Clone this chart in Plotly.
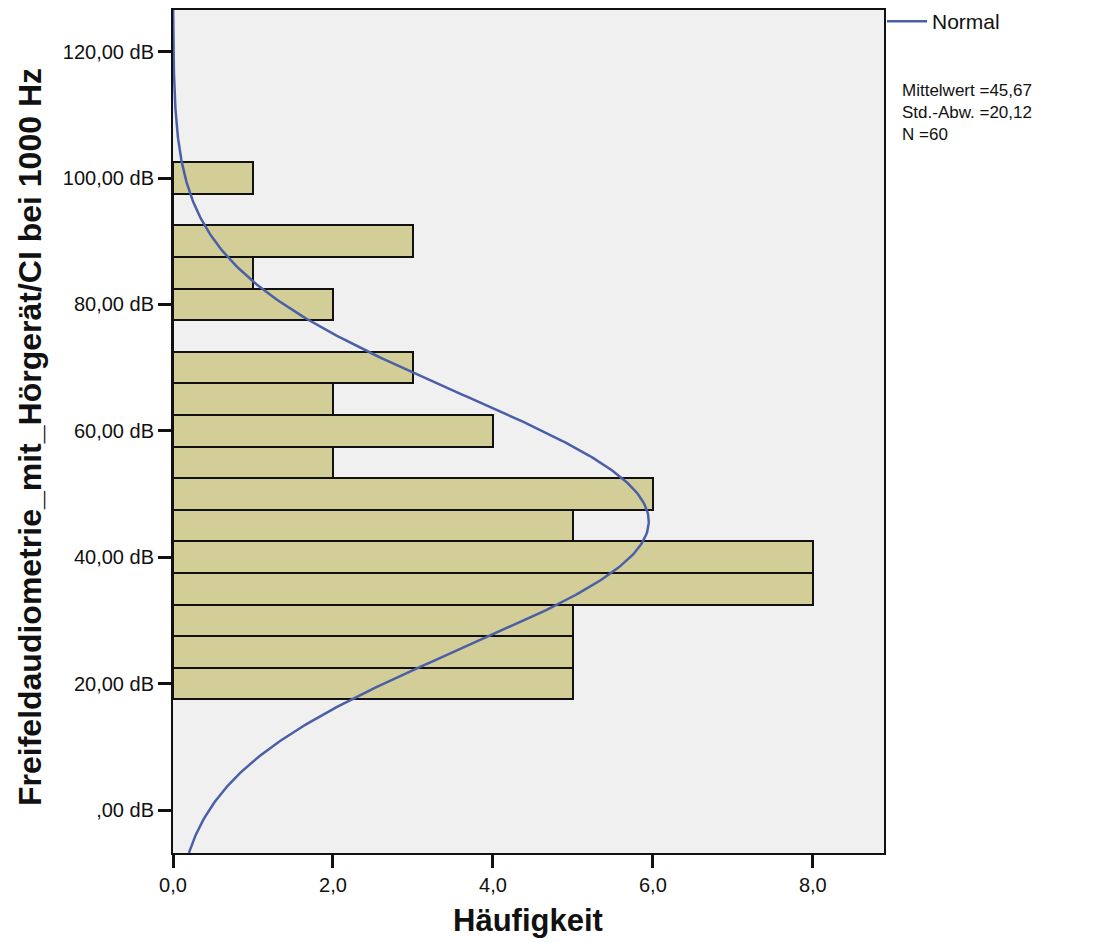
import numpy as np
import plotly.graph_objects as go

# Data
bin_centers = [20, 25, 30, 35, 40, 45, 50, 55, 60, 65, 70, 75, 80, 85, 90, 95, 100]
counts = [5, 5, 5, 8, 8, 5, 6, 2, 4, 2, 3, 0, 2, 1, 3, 0, 1]
bin_width = 5
mean_val = 45.67
sd_val = 20.12
n_val = 60

y_tick_vals = [0, 20, 40, 60, 80, 100, 120]
y_tick_text = [",00 dB", "20,00 dB", "40,00 dB", "60,00 dB", "80,00 dB", "100,00 dB", "120,00 dB"]
x_tick_vals = [0, 2, 4, 6, 8]
x_tick_text = ["0,0", "2,0", "4,0", "6,0", "8,0"]
stats_lines = ["Mittelwert =45,67", "Std.-Abw. =20,12", "N =60"]

y_range = [-6.8, 126.6]
x_range = [0, 8.89]

bar_fill = "#D3CE98"
bg = "#F0F0F0"
line_col = "#4A5FA8"
font_family = "Liberation Sans, Arial, sans-serif"

# plot area in screen px (page body has 8px margin)
PL, PR, PT, PB = 173, 884, 10, 853
PW, PH = PR - PL, PB - PT

fig = go.Figure()
fig.add_trace(go.Bar(
    y=bin_centers, x=counts, orientation="h", width=bin_width,
    marker=dict(color=bar_fill, line=dict(color="#111111", width=2)),
    showlegend=False, hoverinfo="skip",
))

# Normal curve from reported statistics
yy = np.linspace(y_range[0], y_range[1], 400)
xx = n_val * bin_width * np.exp(-0.5 * ((yy - mean_val) / sd_val) ** 2) / (sd_val * np.sqrt(2 * np.pi))
fig.add_trace(go.Scatter(
    x=xx, y=yy, mode="lines", line=dict(color=line_col, width=2.5),
    name="Normal", showlegend=True,
))

def px_x(x):
    return (x - PL) / PW

def px_y(y):
    return (PB - y) / PH

annotations = [
    dict(text="Freifeldaudiometrie_mit_Hörgerät/CI bei 1000 Hz", textangle=-90,
         xref="paper", yref="paper", x=px_x(30), y=px_y(437),
         xanchor="center", yanchor="middle", showarrow=False,
         font=dict(size=32, family=font_family, color="#111111", weight="bold")),
    dict(text="Häufigkeit", xref="paper", yref="paper", x=px_x(528), y=px_y(920),
         xanchor="center", yanchor="middle", showarrow=False,
         font=dict(size=31, family=font_family, color="#111111", weight="bold")),
    dict(text="<br>".join(stats_lines), xref="paper", yref="paper",
         x=px_x(900), y=px_y(79), xanchor="left", yanchor="top", align="left",
         showarrow=False, font=dict(size=17, family=font_family, color="#111111")),
]

fig.update_layout(
    width=1089, height=934,
    margin=dict(l=PL - 8, r=1089 + 8 - PR, t=PT - 8, b=934 + 8 - PB, autoexpand=False),
    paper_bgcolor="white", plot_bgcolor=bg,
    font=dict(family=font_family, size=20, color="#111111"),
    bargap=0,
    legend=dict(x=px_x(882), y=px_y(1), xanchor="left", yanchor="top",
                font=dict(size=21, family=font_family), bgcolor="rgba(0,0,0,0)",
                itemwidth=40),
    xaxis=dict(range=x_range, tickvals=x_tick_vals, ticktext=x_tick_text,
               ticks="outside", ticklen=13, tickwidth=3, tickcolor="#111111",
               showgrid=False, zeroline=False, showline=True, linecolor="#111111",
               linewidth=2, mirror=True, tickfont=dict(size=20)),
    yaxis=dict(range=y_range, tickvals=y_tick_vals, ticktext=y_tick_text,
               ticks="outside", ticklen=13, tickwidth=3, tickcolor="#111111",
               showgrid=False, zeroline=False, showline=True, linecolor="#111111",
               linewidth=2, mirror=True, tickfont=dict(size=20)),
    annotations=annotations,
)

fig.write_html("out.html")
